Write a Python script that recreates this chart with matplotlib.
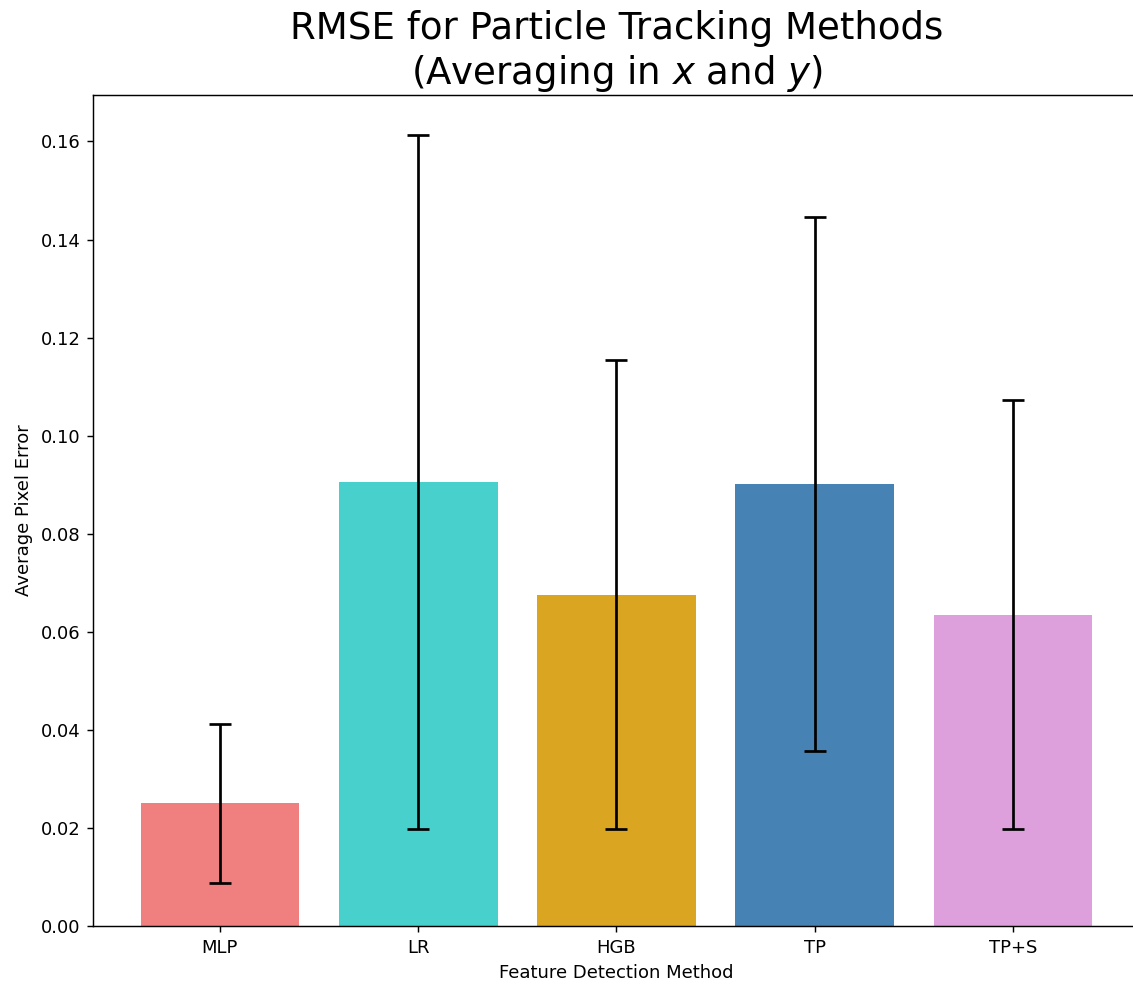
import numpy as np
import matplotlib.pyplot as plt

# Values
methods = ['MLP', 'LR', 'HGB', 'TP', 'TP+S']
rmse = [0.0250, 0.0906, 0.0676, 0.0901, 0.0635]
rmse_std = [0.0162, 0.0708, 0.0478, 0.0545, 0.0437]
colors = ['lightcoral', 'mediumturquoise', 'goldenrod', 'steelblue', 'plum']

DPI = 130
fig = plt.figure(figsize=(1133 / DPI, 985 / DPI), dpi=DPI)
# right edge sits just past the figure, as in the cropped original
ax = fig.add_axes([93 / 1133, 59 / 985, 1047 / 1133, 831 / 985])

x = np.arange(len(methods))
ax.bar(x, rmse, yerr=rmse_std, color=colors, capsize=6,
       error_kw=dict(elinewidth=1.5, capthick=1.5, ecolor='black'))

ax.set_xticks(x)
ax.set_xticklabels(methods)
ax.set_xlabel('Feature Detection Method')
ax.set_ylabel('Average Pixel Error')
ax.set_title('RMSE for Particle Tracking Methods\n(Averaging in $x$ and $y$)', fontsize=20.6)

plt.savefig('out.png', dpi=DPI)
